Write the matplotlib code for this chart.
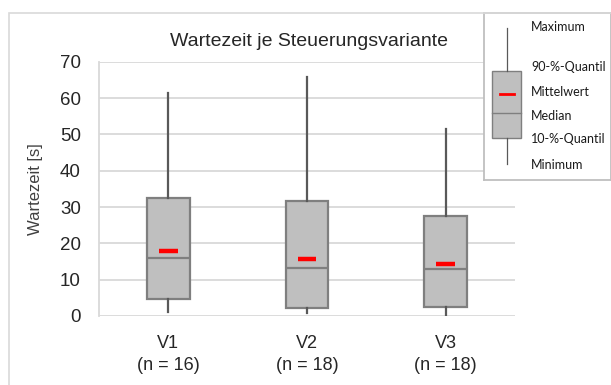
import matplotlib
matplotlib.use('Agg')
from matplotlib import pyplot as plt
from matplotlib.patches import Rectangle
import numpy as np

# Werte (Wartezeit in s)
varianten = ['V1', 'V2', 'V3']
anzahl = [16, 18, 18]
minimum = [1.2, 0.7, 0.3]
quantil10 = [4.8, 2.1, 2.4]
median = [16.1, 13.3, 12.9]
mittelwert = [17.9, 15.6, 14.2]
quantil90 = [32.4, 31.7, 27.4]
maximum = [61.5, 65.8, 51.6]

plt.rcParams['font.family'] = ['Liberation Sans', 'DejaVu Sans']

fig = plt.figure(figsize=(6.11, 3.85), dpi=100)
W, H = 611.0, 385.0

# aeusserer Rahmen
fig.add_artist(Rectangle((9 / W, -0.5), 2.0, 1.5 - 13 / H, transform=fig.transFigure,
                         fill=False, edgecolor='#d9d9d9', linewidth=1.2))

ax = fig.add_axes([99 / W, 1 - 316 / H, (515 - 99) / W, (316 - 61.7) / H])

stats = []
for i in range(len(varianten)):
    stats.append(dict(whislo=minimum[i], q1=quantil10[i], med=median[i], q3=quantil90[i],
                      whishi=maximum[i], fliers=[], label=varianten[i]))
pos = np.arange(len(varianten))
ax.bxp(stats, positions=pos, widths=0.31, patch_artist=True, showcaps=False,
       boxprops=dict(facecolor='#bfbfbf', edgecolor='#7f7f7f', linewidth=1.6),
       medianprops=dict(color='#7f7f7f', linewidth=1.6),
       whiskerprops=dict(color='#595959', linewidth=1.6), zorder=3)
ax.hlines(mittelwert, pos - 0.068, pos + 0.068, colors='#ff0000', linewidth=3.2, zorder=4)

ax.set_xlim(-0.5, 2.5)
ax.set_ylim(0, 70)
ax.set_yticks(np.arange(0, 71, 10))
ax.set_xticks(pos)
ax.set_xticklabels(['%s\n(n = %d)' % (v, n) for v, n in zip(varianten, anzahl)],
                   fontsize=13, color='#262626', linespacing=1.35)
ax.tick_params(axis='y', labelsize=13.5, labelcolor='#262626', length=0, pad=13)
ax.tick_params(axis='x', length=0, pad=14)
ax.grid(axis='y', color='#d9d9d9', linewidth=1.3, zorder=0)
ax.set_axisbelow(True)
for s in ['top', 'right', 'bottom']:
    ax.spines[s].set_visible(False)
ax.spines['left'].set_color('#d9d9d9')
ax.spines['left'].set_linewidth(1.3)
ax.set_ylabel('Wartezeit [s]', fontsize=12, color='#404040', labelpad=12)

fig.text(309 / W, 1 - 41 / H, 'Wartezeit je Steuerungsvariante', ha='center', va='center',
         fontsize=14, color='#262626')

# Legende als eigene Achse (Pixelkoordinaten)
lg = fig.add_axes([484 / W, 1 - 180 / H, (611 - 484) / W, (180 - 13) / H])
lg.set_xlim(484, 611)
lg.set_ylim(180, 13)
lg.set_xticks([])
lg.set_yticks([])
for s in lg.spines.values():
    s.set_color('#bfbfbf')
    s.set_linewidth(1.3)
lg.plot([506.5, 506.5], [28, 71], color='#595959', linewidth=0.9)
lg.plot([506.5, 506.5], [138, 164], color='#595959', linewidth=0.9)
lg.add_patch(Rectangle((492, 71), 29, 67, facecolor='#bfbfbf', edgecolor='#7f7f7f', linewidth=1.0))
lg.plot([492, 521], [113, 113], color='#7f7f7f', linewidth=1.0)
lg.plot([499.5, 513.5], [94, 94], color='#ff0000', linewidth=2.0)
leg_texte = ['Maximum', '90-%-Quantil', 'Mittelwert', 'Median', '10-%-Quantil', 'Minimum']
leg_y = [27, 67, 92, 116, 139, 165]
for t, y in zip(leg_texte, leg_y):
    lg.text(531, y, t, fontsize=9, family=['Lato', 'DejaVu Sans'], color='#1a1a1a',
            ha='left', va='center')

fig.savefig('out.png', dpi=100)
